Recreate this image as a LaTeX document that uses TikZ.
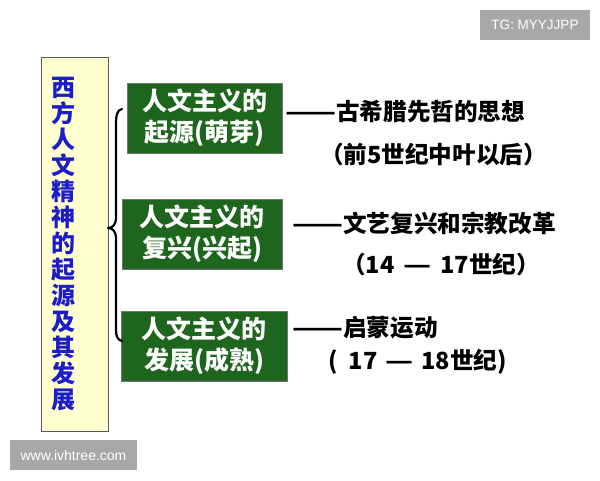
\documentclass[tikz,border=0pt]{standalone}
\usepackage{graphicx}
\usepackage{fontspec}
\setmainfont{Liberation Sans}
\newfontfamily\cjk{Noto Sans CJK SC}
\definecolor{boxgreen}{RGB}{30,102,30}
\definecolor{titlefill}{RGB}{255,255,208}
\definecolor{titleblue}{RGB}{28,28,200}
\definecolor{wmgray}{RGB}{168,168,168}
\newcommand{\longdash}{\scalebox{1.26}[1]{——}}
\newcommand{\widedash}{\scalebox{1.3}[1]{—}}
\tikzset{
 titlebox/.style={draw=black!65, line width=0.9pt, fill=titlefill, minimum width=67pt, minimum height=374pt, inner sep=0pt},
 titletxt/.style={text=titleblue, font=\cjk\bfseries\fontsize{24pt}{26pt}\selectfont, align=center, inner sep=0pt},
 stagebox/.style={draw=black!55, line width=0.9pt, fill=boxgreen, text=white, minimum height=70pt, inner sep=0pt, align=center, font=\cjk\bfseries\fontsize{25pt}{31pt}\selectfont},
 desc/.style={anchor=west, inner sep=0pt, font=\cjk\bfseries\fontsize{23.6pt}{28pt}\selectfont},
 wm/.style={fill=wmgray, text=white, inner sep=0pt, font=\fontsize{13.5pt}{15pt}\selectfont},
 bracepath/.style={draw=black, line width=2.2pt, line cap=round, line join=round}
}
\begin{document}
\begin{tikzpicture}[x=1pt,y=-1pt]
\useasboundingbox (0,0) rectangle (600,480);
\node[titlebox] (title) at (74.5,244) {};
\node[titletxt] (titletext) at (63,244) {西\\方\\人\\文\\精\\神\\的\\起\\源\\及\\其\\发\\展};
\node[stagebox, minimum width=155pt] (g1) at (204.5,118) {人文主义的\\起源(萌芽)};
\node[stagebox, minimum width=160pt] (g2) at (202,234) {人文主义的\\复兴(兴起)};
\node[stagebox, minimum width=166pt] (g3) at (204,346) {人文主义的\\发展(成熟)};
\node[desc] (d1a) at (285,112) {\longdash 古希腊先哲的思想};
\node[desc] (d1b) at (320,155) {（前5世纪中叶以后）};
\node[desc] (d2a) at (292,223) {\longdash 文艺复兴和宗教改革};
\node[desc] (d2b) at (342,265) {（14\hspace{9pt}\widedash\hspace{9pt}17世纪）};
\node[desc] (d3a) at (292,328) {\longdash 启蒙运动};
\node[desc] (d3b) at (328,362) {(\hspace{11pt}17\hspace{8pt}\widedash\hspace{8pt}18世纪)};
\coordinate (btop) at (122,109);
\coordinate (bmid) at (108,228);
\coordinate (bbot) at (122,341);
\draw[bracepath] (btop) .. controls (117,110) and (116,115) .. (116,125) -- (116,218) .. controls (116,224) and (113,228) .. (bmid) .. controls (113,228) and (116,232) .. (116,238) -- (116,330) .. controls (116,337) and (118,340) .. (bbot);
\node[wm, minimum width=110pt, minimum height=30pt] (tg) at (535,25) {TG: MYYJJPP};
\node[wm, minimum width=127pt, minimum height=30pt, font=\fontsize{14pt}{16pt}\selectfont] (www) at (73.5,455) {www.ivhtree.com};
\end{tikzpicture}
\end{document}
